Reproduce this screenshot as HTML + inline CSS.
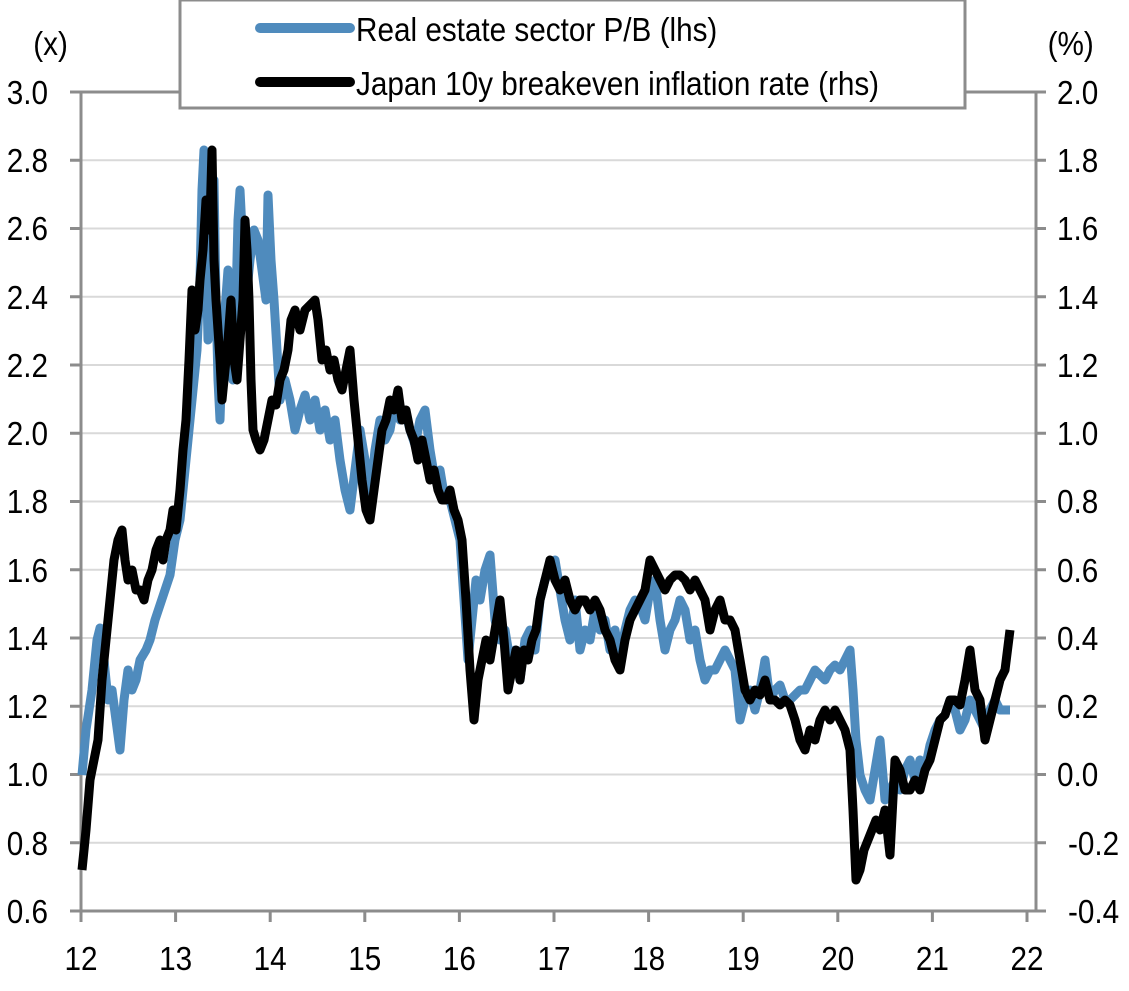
<!DOCTYPE html>
<html><head><meta charset="utf-8"><style>
body{margin:0;background:#fff;}
svg text{font-family:"Liberation Sans",Arial,sans-serif;font-size:33px;fill:#000;}
</style></head><body>
<svg width="1129" height="986" viewBox="0 0 1129 986" xmlns="http://www.w3.org/2000/svg">
<g stroke="#d9d9d9" stroke-width="2">
<line x1="81" y1="160.3" x2="1036" y2="160.3"/><line x1="81" y1="228.5" x2="1036" y2="228.5"/><line x1="81" y1="296.8" x2="1036" y2="296.8"/><line x1="81" y1="365" x2="1036" y2="365"/><line x1="81" y1="433.3" x2="1036" y2="433.3"/><line x1="81" y1="501.5" x2="1036" y2="501.5"/><line x1="81" y1="569.8" x2="1036" y2="569.8"/><line x1="81" y1="638" x2="1036" y2="638"/><line x1="81" y1="706.3" x2="1036" y2="706.3"/><line x1="81" y1="774.5" x2="1036" y2="774.5"/><line x1="81" y1="842.8" x2="1036" y2="842.8"/>
</g>
<g stroke="#8c8c8c" stroke-width="3" fill="none">
<line x1="81" y1="92" x2="1036" y2="92"/>
<line x1="81" y1="92" x2="81" y2="911"/><line x1="1036" y1="92" x2="1036" y2="911"/>
<line x1="70" y1="911" x2="1046" y2="911"/>
<path d="M70 92H81M70 160.3H81M70 228.5H81M70 296.8H81M70 365H81M70 433.3H81M70 501.5H81M70 569.8H81M70 638H81M70 706.3H81M70 774.5H81M70 842.8H81"/>
<path d="M1036 92H1046M1036 160.3H1046M1036 228.5H1046M1036 296.8H1046M1036 365H1046M1036 433.3H1046M1036 501.5H1046M1036 569.8H1046M1036 638H1046M1036 706.3H1046M1036 774.5H1046M1036 842.8H1046"/>
<path d="M81 911v11M175.6 911v11M270.2 911v11M364.8 911v11M459.4 911v11M554 911v11M648.6 911v11M743.2 911v11M837.8 911v11M932.4 911v11M1027 911v11"/>
</g>
<g transform="scale(0.9,1)" text-anchor="end">
<text x="53.3" y="104">3.0</text><text x="53.3" y="172">2.8</text><text x="53.3" y="240">2.6</text><text x="53.3" y="309">2.4</text><text x="53.3" y="377">2.2</text><text x="53.3" y="445">2.0</text><text x="53.3" y="513">1.8</text><text x="53.3" y="582">1.6</text><text x="53.3" y="650">1.4</text><text x="53.3" y="718">1.2</text><text x="53.3" y="786">1.0</text><text x="53.3" y="855">0.8</text><text x="53.3" y="923">0.6</text>
</g>
<g transform="scale(0.9,1)">
<text x="1174.4" y="104">2.0</text><text x="1174.4" y="172">1.8</text><text x="1174.4" y="240">1.6</text><text x="1174.4" y="309">1.4</text><text x="1174.4" y="377">1.2</text><text x="1174.4" y="445">1.0</text><text x="1174.4" y="513">0.8</text><text x="1174.4" y="582">0.6</text><text x="1174.4" y="650">0.4</text><text x="1174.4" y="718">0.2</text><text x="1174.4" y="786">0.0</text><text x="1186.7" y="855">-0.2</text><text x="1186.7" y="923">-0.4</text>
</g>
<g transform="scale(0.9,1)" text-anchor="middle">
<text x="90" y="970">12</text><text x="195.1" y="970">13</text><text x="300.2" y="970">14</text><text x="405.3" y="970">15</text><text x="510.4" y="970">16</text><text x="615.6" y="970">17</text><text x="720.7" y="970">18</text><text x="825.8" y="970">19</text><text x="930.9" y="970">20</text><text x="1036" y="970">21</text><text x="1141.1" y="970">22</text>
</g>
<g transform="scale(0.9,1)">
<text x="37" y="55">(x)</text>
<text x="1164" y="55">(%)</text>
</g>
<polyline fill="none" stroke="#4f8bbd" stroke-width="9" stroke-linejoin="round" points="82,775 86,730 92,690 97,640 100,628 104,660 108,700 112,690 116,720 120,750 124,700 128,670 132,690 136,680 140,660 146,650 150,640 155,620 160,605 165,590 170,575 175,540 180,520 185,470 190,420 194,380 197,350 200,280 202,190 204,150 206,250 208,340 210,300 212,230 214,180 216,300 218,380 220,420 222,360 225,310 228,270 230,320 233,380 236,300 238,220 240,190 243,250 246,300 250,260 254,230 258,240 262,270 266,300 268,195 271,260 274,300 277,350 280,400 285,380 290,400 295,430 300,410 305,395 310,420 315,400 320,430 325,410 330,440 335,420 340,460 345,490 350,510 355,470 360,430 365,460 370,500 375,450 380,420 385,440 390,430 395,400 400,420 405,410 410,430 415,445 420,420 425,410 430,450 435,480 440,470 445,500 450,500 455,520 460,540 464,600 468,660 472,620 476,580 480,600 485,570 490,555 495,620 500,640 505,630 510,660 515,650 520,680 525,640 530,630 535,650 540,600 545,580 550,570 555,560 560,590 565,620 570,640 575,600 580,650 585,630 590,640 595,610 600,630 605,620 610,650 615,630 620,660 625,630 630,610 635,600 640,605 645,620 650,590 655,580 660,620 665,650 670,630 675,620 680,600 685,610 690,640 695,630 700,660 705,680 710,670 715,670 720,660 725,650 730,660 735,670 740,720 745,700 750,690 755,710 760,690 765,660 770,700 775,690 780,685 785,700 790,700 795,695 800,690 805,690 810,680 815,670 820,675 825,680 830,670 835,665 840,670 845,660 850,650 853,690 856,740 860,775 865,790 870,800 875,770 880,740 885,800 890,790 895,780 900,790 905,770 910,760 915,780 920,760 925,770 930,745 935,730 940,720 945,715 950,700 955,710 960,730 965,720 970,700 975,710 980,720 985,730 990,710 995,700 1000,710 1010,710"/>
<polyline fill="none" stroke="#000" stroke-width="9" stroke-linejoin="round" points="82,870 86,830 90,780 94,760 98,740 102,680 106,640 110,600 114,560 118,540 122,530 125,560 128,580 132,570 136,590 140,590 144,600 148,580 152,570 156,550 160,540 163,560 166,540 170,530 173,510 176,530 180,490 183,450 186,420 189,360 192,290 195,330 198,310 200,280 203,250 206,200 208,230 210,220 212,150 214,260 216,300 218,330 220,360 222,400 225,370 228,340 231,300 234,360 237,380 240,340 243,300 245,220 247,250 249,300 251,380 253,430 256,440 260,450 264,440 268,420 272,400 276,405 280,380 284,370 288,350 291,320 295,310 300,330 305,310 310,305 315,300 318,320 322,360 326,350 330,370 334,360 338,380 342,390 346,370 350,350 354,400 358,440 362,480 366,510 370,520 374,490 378,460 382,430 386,420 390,400 394,410 398,390 402,420 406,410 410,430 414,440 418,460 422,440 426,460 430,480 434,470 438,490 442,500 446,500 450,490 454,510 458,520 462,540 466,600 470,670 474,720 478,680 482,660 486,640 490,660 495,630 500,600 504,640 508,690 512,670 516,650 520,680 524,650 528,660 532,640 536,630 540,600 545,580 550,560 555,580 560,590 565,580 570,600 575,610 580,600 585,600 590,610 595,600 600,610 605,630 610,640 615,660 620,670 625,640 630,620 635,610 640,600 645,590 650,560 655,570 660,580 665,590 670,580 675,575 680,575 685,580 690,590 695,580 700,590 705,600 710,630 715,610 720,600 725,620 730,620 735,630 740,660 745,690 750,700 755,690 760,695 765,680 770,700 775,700 780,705 785,700 790,705 795,720 800,740 805,750 810,730 815,740 820,720 825,710 830,720 835,710 840,720 845,730 850,750 853,810 856,880 860,870 864,850 868,840 872,830 876,820 880,830 885,810 890,855 895,760 900,770 905,790 910,790 915,780 920,790 925,770 930,760 935,740 940,720 945,715 950,700 955,700 960,705 965,680 970,650 975,690 980,700 985,740 990,720 995,700 1000,680 1005,670 1010,630"/>
<rect x="180" y="0" width="785" height="108" fill="#fff" stroke="#8c8c8c" stroke-width="3"/>
<line x1="260" y1="28" x2="350" y2="28" stroke="#4f8bbd" stroke-width="10" stroke-linecap="round"/>
<line x1="260" y1="82" x2="350" y2="82" stroke="#000" stroke-width="10" stroke-linecap="round"/>
<g transform="scale(0.9,1)">
<text x="395.6" y="41">Real estate sector P/B (lhs)</text>
<text x="395.6" y="95">Japan 10y breakeven inflation rate (rhs)</text>
</g>
</svg>
</body></html>
